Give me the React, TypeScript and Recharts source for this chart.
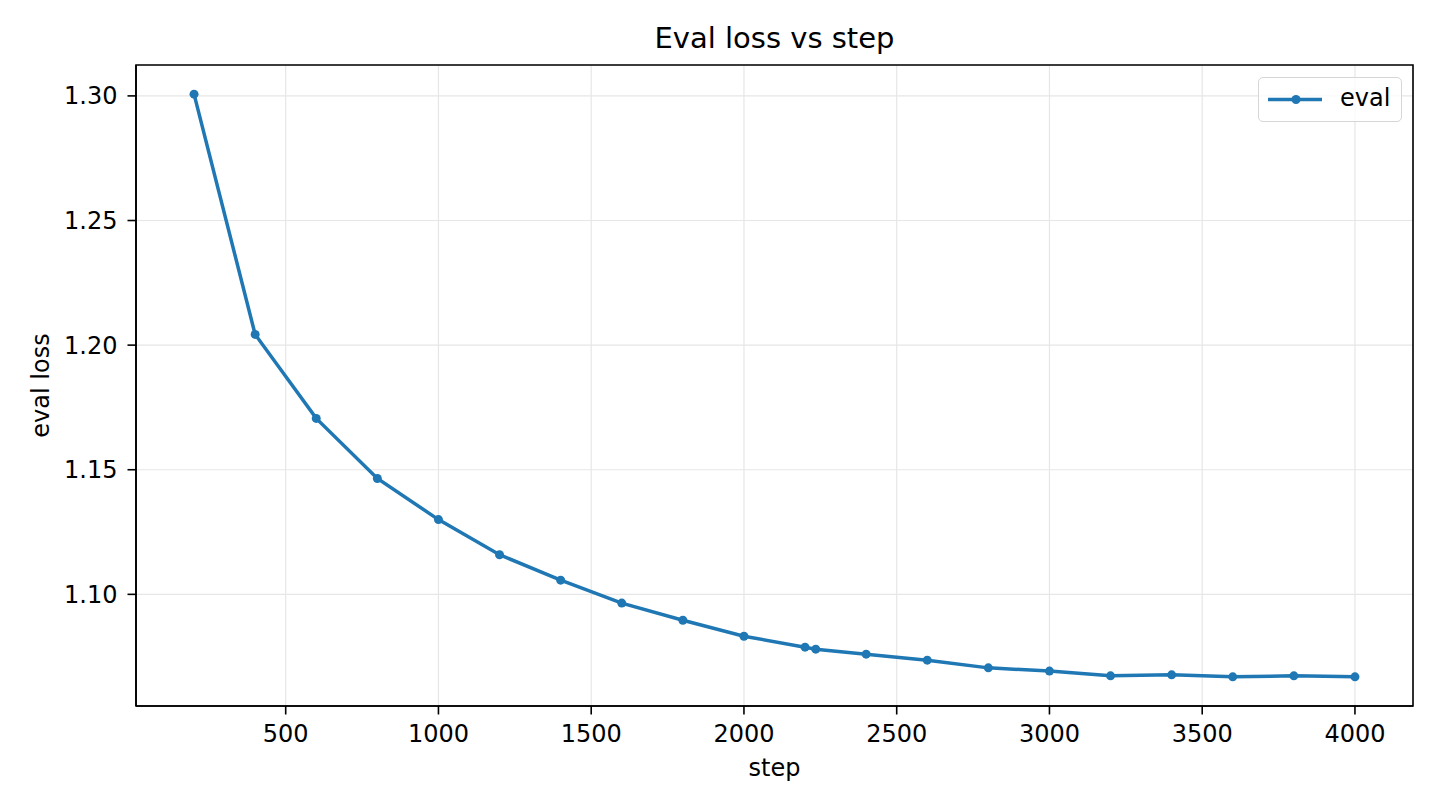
import React from 'react';
import { LineChart, Line, XAxis, YAxis, CartesianGrid, Legend, ReferenceArea, Label } from 'recharts';

const steps = [200, 400, 600, 800, 1000, 1200, 1400, 1600, 1800, 2000, 2200, 2235, 2400, 2600, 2800, 3000, 3200, 3400, 3600, 3800, 4000];
const evalLoss = [1.3007, 1.2043, 1.1706, 1.1465, 1.13, 1.1159, 1.1057, 1.0965, 1.0896, 1.0832, 1.0788, 1.078, 1.076, 1.0736, 1.0705, 1.0692, 1.0673, 1.0677, 1.0669, 1.0673, 1.0669];

const xTicks = [500, 1000, 1500, 2000, 2500, 3000, 3500, 4000];
const yTicks = [1.1, 1.15, 1.2, 1.25, 1.3];

const xDomain: [number, number] = [10, 4190];
const yDomain: [number, number] = [1.0552, 1.3124];

const data = steps.map((step, i) => ({ step, eval: evalLoss[i] }));

const FONT = '"DejaVu Sans", sans-serif';
const BLUE = '#1f77b4';

const renderLegend = () => (
  <div
    style={{
      width: 144,
      height: 45,
      boxSizing: 'border-box',
      border: '1.6px solid #d6d6d6',
      borderRadius: 5,
      background: 'rgba(255,255,255,0.8)',
      position: 'relative',
      fontFamily: FONT,
    }}
  >
    <svg width={70} height={45} style={{ position: 'absolute', left: 0, top: 0 }}>
      <line x1={9} y1={21.5} x2={63} y2={21.5} stroke={BLUE} strokeWidth={3.5} />
      <circle cx={37} cy={21.5} r={4.5} fill={BLUE} />
    </svg>
    <span style={{ position: 'absolute', left: 81, top: 6, fontSize: 24, lineHeight: '28px', color: '#000' }}>eval</span>
  </div>
);

export default function App() {
  return (
    <div style={{ position: 'absolute', left: 0, top: 0, width: 1440, height: 810, background: '#fff' }}>
      <div
        style={{
          position: 'absolute',
          left: 136,
          width: 1277,
          top: 24,
          textAlign: 'center',
          fontFamily: FONT,
          fontSize: 29,
          lineHeight: 1,
          color: '#000',
        }}
      >
        Eval loss vs step
      </div>
      <LineChart width={1440} height={810} data={data} margin={{ top: 65, right: 27, left: 0, bottom: 0 }}>
        <CartesianGrid stroke="#e6e6e6" strokeWidth={1.2} />
        <XAxis
          dataKey="step"
          type="number"
          domain={xDomain}
          ticks={xTicks}
          height={104}
          tickSize={8.5}
          tickMargin={10}
          stroke="#000"
          strokeWidth={1.6}
          tick={{ fill: '#000', fontSize: 24, fontFamily: FONT }}
        >
          <Label value="step" position="insideBottom" offset={34} fill="#000" fontSize={24} fontFamily={FONT} />
        </XAxis>
        <YAxis
          type="number"
          domain={yDomain}
          ticks={yTicks}
          width={136}
          tickSize={8.5}
          tickMargin={10}
          stroke="#000"
          strokeWidth={1.6}
          tickFormatter={(v: number) => v.toFixed(2)}
          tick={{ fill: '#000', fontSize: 24, fontFamily: FONT }}
        >
          <Label
            content={({ viewBox }: any) => {
              const cy = viewBox.y + viewBox.height / 2;
              return (
                <text
                  x={49}
                  y={cy}
                  transform={`rotate(-90 49 ${cy})`}
                  textAnchor="middle"
                  fill="#000"
                  fontSize={24}
                  fontFamily={FONT}
                >
                  eval loss
                </text>
              );
            }}
          />
        </YAxis>
        <Legend
          layout="horizontal"
          verticalAlign="middle"
          align="center"
          content={renderLegend}
          wrapperStyle={{ top: 77, left: 1258, width: 144, height: 45 }}
        />
        <Line
          type="linear"
          dataKey="eval"
          name="eval"
          stroke={BLUE}
          strokeWidth={3.5}
          dot={{ r: 4.5, fill: BLUE, stroke: BLUE, strokeWidth: 0 }}
          activeDot={false}
          isAnimationActive={false}
        />
        <ReferenceArea
          x1={xDomain[0]}
          x2={xDomain[1]}
          y1={yDomain[0]}
          y2={yDomain[1]}
          fill="none"
          stroke="#000"
          strokeWidth={1.6}
          ifOverflow="visible"
        />
      </LineChart>
    </div>
  );
}
